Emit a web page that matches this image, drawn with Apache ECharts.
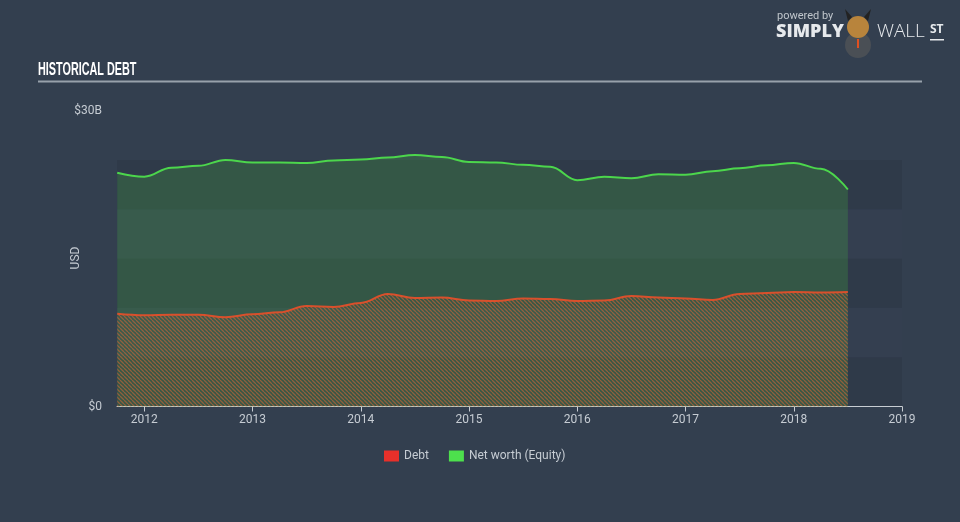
<!DOCTYPE html>
<html>
<head>
<meta charset="utf-8">
<script src="https://cdn.jsdelivr.net/npm/echarts@6/dist/echarts.min.js"></script>
<style>
html,body{margin:0;padding:0;background:#333f4f;}
#chart{width:960px;height:522px;}
</style>
</head>
<body>
<div id="chart"></div>
<script>
// ---- data ----
var quarters = [2011.75, 2012.0, 2012.25, 2012.5, 2012.75, 2013.0, 2013.25, 2013.5, 2013.75,
  2014.0, 2014.25, 2014.5, 2014.75, 2015.0, 2015.25, 2015.5, 2015.75, 2016.0, 2016.25,
  2016.5, 2016.75, 2017.0, 2017.25, 2017.5, 2017.75, 2018.0, 2018.25, 2018.5];
var equity = [23.7, 23.3, 24.2, 24.4, 25.0, 24.75, 24.75, 24.7, 24.95, 25.05, 25.25, 25.5,
  25.3, 24.8, 24.75, 24.5, 24.3, 22.95, 23.3, 23.15, 23.55, 23.5, 23.85, 24.15, 24.45,
  24.7, 24.1, 22.0];
var debt = [9.4, 9.25, 9.3, 9.3, 9.05, 9.35, 9.55, 10.2, 10.1, 10.5, 11.4, 11.0, 11.05,
  10.75, 10.7, 10.95, 10.9, 10.7, 10.75, 11.2, 11.05, 10.95, 10.8, 11.4, 11.5, 11.6,
  11.55, 11.6];
var yearTicks = [2012, 2013, 2014, 2015, 2016, 2017, 2018, 2019];
var seriesNames = ['Debt', 'Net worth (Equity)'];

function pairs(xs, ys) { return xs.map(function (x, i) { return [x, ys[i]]; }); }

// hatch pattern for the debt area
var tile = document.createElement('canvas');
tile.width = 4; tile.height = 4;
var c = tile.getContext('2d');
c.strokeStyle = 'rgba(205,100,55,0.62)';
c.lineWidth = 1.3;
c.beginPath();
[-4, 0, 4].forEach(function (k) { c.moveTo(k, 0); c.lineTo(k + 4, 4); });
c.stroke();

var chart = echarts.init(document.getElementById('chart'));
var axisTextColor = '#c6ccd3';
var option = {
  backgroundColor: '#333f4f',
  animation: false,
  textStyle: { fontFamily: 'Roboto' },
  grid: { left: 117, right: 58, top: 110.6, bottom: 115.5, containLabel: false },
  legend: {
    data: [
      { name: seriesNames[0], itemStyle: { color: '#e8302a' } },
      { name: seriesNames[1], itemStyle: { color: '#4de04d' } }
    ],
    icon: 'rect', itemWidth: 15, itemHeight: 11, itemGap: 20, padding: 0,
    left: 384, top: 450,
    textStyle: { color: axisTextColor, fontSize: 12, fontFamily: 'Roboto' }
  },
  xAxis: {
    type: 'value', min: 2011.748, max: 2019,
    axisLine: { show: true, lineStyle: { color: '#c8cdd3', width: 1 } },
    axisTick: { show: true, customValues: yearTicks, length: 5, lineStyle: { color: '#c8cdd3' } },
    axisLabel: { customValues: yearTicks, color: axisTextColor, fontSize: 12, margin: 7,
      formatter: function (v) { return String(Math.round(v)); } },
    splitLine: { show: false }
  },
  yAxis: {
    type: 'value', min: 0, max: 30, interval: 5,
    axisLine: { show: false }, axisTick: { show: false },
    axisLabel: { color: axisTextColor, fontSize: 12, margin: 15,
      formatter: function (v) { return v === 0 ? '$0' : (v === 30 ? '$30B' : ''); } },
    splitLine: { show: false },
    splitArea: { show: true, areaStyle: { color: ['#2f3a49', '#343f50', '#2f3a49', '#343f50', '#2f3a49', 'rgba(0,0,0,0)'] } }
  },
  series: [
    {
      name: seriesNames[1], type: 'line', data: pairs(quarters, equity),
      smooth: 0.4, smoothMonotone: 'x', symbol: 'none',
      itemStyle: { color: '#4de04d' },
      lineStyle: { color: '#4cd64c', width: 2 },
      areaStyle: { color: 'rgba(70,196,62,0.3)', origin: 'start' },
      z: 2
    },
    {
      name: seriesNames[0], type: 'line', data: pairs(quarters, debt),
      smooth: 0.4, smoothMonotone: 'x', symbol: 'none',
      itemStyle: { color: '#e8302a' },
      lineStyle: { color: '#d9502c', width: 2 },
      areaStyle: { color: { image: tile, repeat: 'repeat' }, opacity: 1, origin: 'start' },
      z: 3
    }
  ],
  graphic: [
    { type: 'text', x: 76, y: 258, rotation: Math.PI / 2,
      style: { text: 'USD', fill: axisTextColor, font: '12px Roboto', align: 'center', verticalAlign: 'middle' } },
    { type: 'text', x: 38, y: 60, z: 10, scaleX: 0.57,
      style: { text: 'HISTORICAL DEBT', fill: '#ffffff', font: 'bold 19px "Liberation Sans", Arial, sans-serif' } },
    { type: 'rect', shape: { x: 38, y: 80.5, width: 884, height: 2 }, style: { fill: '#98a1ab' } },
    { type: 'text', left: 777, top: 11, style: { text: 'powered by', fill: '#c0c6cc', font: '11px Roboto' } },
    { type: 'text', left: 776, top: 23, style: { text: 'SIMPLY', fill: '#e6e9ec', font: '800 18px "Open Sans"' } },
    { type: 'circle', shape: { cx: 858, cy: 45, r: 13 }, style: { fill: '#4a4f55' } },
    { type: 'circle', shape: { cx: 858, cy: 27, r: 11 }, style: { fill: '#b8843c' } },
    { type: 'polygon', shape: { points: [[848, 21], [845, 9], [852, 17]] }, style: { fill: '#222' } },
    { type: 'polygon', shape: { points: [[868, 21], [871, 9], [864, 17]] }, style: { fill: '#222' } },
    { type: 'rect', shape: { x: 857, y: 39, width: 2, height: 9 }, style: { fill: '#e05020' } },
    { type: 'text', left: 877, top: 22, style: { text: 'WALL', fill: '#e6e9ec', font: '300 19px "Open Sans"' } },
    { type: 'text', left: 930, top: 24, style: { text: 'ST', fill: '#e6e9ec', font: 'bold 12px "Open Sans"' } },
    { type: 'rect', shape: { x: 930, y: 39, width: 14, height: 1.5 }, style: { fill: '#e6e9ec' } }
  ]
};
chart.setOption(option);
</script>
</body>
</html>
